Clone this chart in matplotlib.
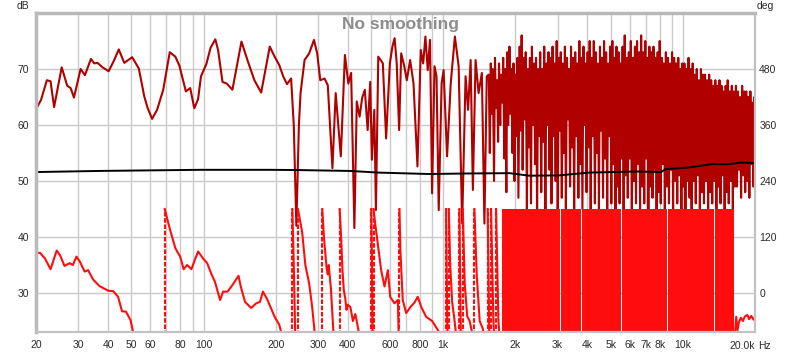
import numpy as np
import matplotlib
matplotlib.use('Agg')
import matplotlib.pyplot as plt
from matplotlib.ticker import FixedLocator, FixedFormatter

plt.rcParams['font.family'] = ['Liberation Sans', 'DejaVu Sans']

# SPL trace below ~1.5 kHz (Hz, dB)
mag_f = [20, 21, 22.2, 23.0, 23.8, 25.6, 27.0, 27.9, 28.8, 30.7,
         32.0, 33.9, 35.0, 36.1, 37.9, 40.2, 42.3, 44.3, 46.7, 50.4,
         53.7, 56.6, 58.5, 61.0, 64.0, 67.9, 72.3, 76.3, 79.3, 84.4,
         88.0, 91.5, 94.9, 97.6, 102.8, 107, 112, 115, 120, 125,
         132, 144, 153, 163, 174, 189, 198, 207, 215, 223,
         232, 238, 244, 250, 254, 264, 276, 289, 298, 307,
         320, 330, 345, 356, 374, 389, 402, 413, 426, 436,
         448, 459, 471, 484, 496, 504, 516, 524, 536, 560,
         578, 599, 614, 627, 640, 655, 668, 688, 705, 728,
         752, 781, 806, 825, 843, 862, 881, 899, 920, 938,
         958, 985, 1004, 1038, 1075, 1119, 1160, 1200, 1240, 1270,
         1302, 1330, 1365, 1405, 1450, 1486, 1520]
mag_db = [62.8, 64.5, 68.0, 67.8, 63.2, 70.3, 67.0, 66.6, 64.9, 70.0,
          68.9, 71.8, 71.0, 71.1, 70.3, 69.6, 71.5, 73.5, 71.1, 72.1,
          70.1, 65.1, 63.0, 61.1, 62.7, 66.3, 73.0, 72.2, 70.6, 66.0,
          66.6, 63.0, 64.6, 68.7, 70.9, 73.8, 75.3, 73.4, 67.7, 67.4,
          66.3, 74.9, 71.4, 68.0, 65.8, 74.0, 72.2, 70.7, 68.7, 67.3,
          68.3, 60.0, 42.0, 60.0, 65.7, 71.6, 72.8, 75.2, 72.8, 68.0,
          68.3, 67.1, 52.3, 65.7, 54.4, 72.5, 67.4, 69.3, 41.6, 64.2,
          61.5, 64.8, 66.3, 59.1, 67.7, 53.8, 62.7, 44.8, 72.2, 71.0,
          57.6, 71.0, 74.0, 75.5, 71.0, 59.1, 72.8, 70.5, 68.0, 71.6,
          67.4, 52.6, 73.4, 71.0, 75.8, 69.8, 75.2, 47.8, 70.5, 68.7,
          44.8, 67.4, 69.8, 54.4, 67.4, 75.8, 70.5, 42.4, 68.7, 62.7,
          71.6, 48.4, 71.6, 65.7, 69.3, 42.4, 68.7]

# SPL trace above 1.5 kHz, alternating peaks and dips
hf_f = [1550, 1565, 1580, 1595, 1610, 1630, 1645, 1660, 1680, 1695,
        1710, 1730, 1745, 1765, 1780, 1800, 1815, 1835, 1850, 1870,
        1890, 1905, 1925, 1945, 1965, 1985, 2000, 2020, 2040, 2060,
        2085, 2105, 2125, 2145, 2170, 2190, 2210, 2235, 2255, 2280,
        2300, 2325, 2345, 2370, 2395, 2420, 2440, 2465, 2490, 2515,
        2540, 2565, 2590, 2615, 2640, 2670, 2695, 2720, 2750, 2775,
        2805, 2830, 2860, 2890, 2915, 2945, 2975, 3005, 3035, 3065,
        3095, 3125, 3155, 3190, 3220, 3250, 3285, 3320, 3350, 3385,
        3415, 3450, 3485, 3520, 3555, 3590, 3625, 3665, 3700, 3735,
        3770, 3810, 3850, 3885, 3925, 3965, 4005, 4045, 4085, 4125,
        4165, 4210, 4250, 4295, 4335, 4380, 4420, 4465, 4510, 4555,
        4600, 4645, 4690, 4740, 4785, 4835, 4880, 4930, 4980, 5030,
        5080, 5130, 5180, 5235, 5285, 5340, 5390, 5445, 5495, 5550,
        5605, 5660, 5720, 5775, 5830, 5890, 5950, 6010, 6065, 6130,
        6190, 6250, 6310, 6375, 6440, 6500, 6565, 6630, 6700, 6765,
        6830, 6900, 6970, 7040, 7110, 7180, 7250, 7325, 7395, 7470,
        7545, 7620, 7695, 7770, 7850, 7925, 8005, 8085, 8165, 8245,
        8330, 8410, 8495, 8580, 8665, 8750, 8840, 8930, 9015, 9105,
        9195, 9290, 9380, 9475, 9570, 9665, 9760, 9860, 9955, 10055,
        10150, 10250, 10355, 10460, 10560, 10665, 10775, 10880, 10990, 11100,
        11210, 11320, 11430, 11545, 11660, 11775, 11895, 12010, 12130, 12250,
        12375, 12500, 12620, 12750, 12875, 13005, 13130, 13260, 13395, 13530,
        13660, 13800, 13935, 14075, 14215, 14360, 14500, 14645, 14790, 14940,
        15085, 15235, 15385, 15540, 15695, 15850, 16005, 16165, 16325, 16490,
        16655, 16820, 16985, 17155, 17325, 17500, 17675, 17850, 18025, 18205,
        18385, 18570, 18755, 18945, 19130, 19320, 19510, 19705, 19900, 20000]
hf_db = [69, 55, 71, 62, 70, 50, 72, 63, 68, 57,
         71, 60, 69, 64, 72, 54, 70, 48, 73, 60,
         74, 62, 70, 55, 71, 50, 69, 58, 72, 47,
         74, 59, 76, 52, 72, 61, 73, 45, 70, 56,
         72, 46, 74, 60, 71, 53, 72, 44, 70, 58,
         73, 48, 70, 57, 74, 45, 71, 60, 73, 52,
         72, 46, 74, 58, 71, 50, 75, 44, 72, 59,
         73, 47, 71, 55, 74, 45, 72, 61, 70, 49,
         74, 56, 72, 45, 73, 58, 71, 47, 75, 53,
         72, 45, 74, 60, 71, 48, 73, 56, 75, 45,
         72, 58, 75, 46, 73, 55, 71, 45, 74, 59,
         72, 47, 75, 54, 73, 45, 71, 58, 74, 46,
         75, 53, 72, 45, 74, 49, 73, 46, 71, 54,
         74, 45, 76, 51, 72, 47, 73, 54, 75, 45,
         72, 50, 74, 46, 75, 53, 73, 45, 76, 49,
         73, 46, 75, 54, 72, 45, 74, 49, 73, 47,
         74, 52, 72, 45, 73, 48, 75, 46, 72, 53,
         71, 45, 73, 49, 72, 46, 71, 52, 73, 45,
         72, 50, 71, 46, 72, 51, 70, 45, 71, 49,
         71, 45, 70, 50, 72, 47, 70, 45, 71, 50,
         69, 46, 70, 51, 68, 45, 70, 48, 69, 46,
         69, 50, 68, 45, 69, 48, 68, 46, 67, 50,
         68, 45, 67, 49, 68, 46, 67, 51, 66, 45,
         67, 48, 68, 46, 66, 50, 67, 45, 66, 49,
         67, 49, 66, 52, 65, 47, 67, 51, 66, 48,
         66, 50, 65, 47, 66, 53, 64, 49, 65, 54]

# second (black) trace, dB
ref_f = [20, 37, 97, 189, 252, 407, 540, 872, 1284, 1895,
         2284, 3036, 4060, 6330, 8130, 8440, 10540, 13150, 15470, 17520, 20000]
ref_db = [51.6, 51.8, 52.0, 52.0, 51.95, 51.8, 51.5, 51.25, 51.35, 51.4,
          50.95, 51.0, 51.5, 51.7, 51.6, 52.1, 52.4, 53.0, 53.0, 53.3, 53.2]

# phase (deg), wrapped at +-180: a -180 -> +180 step marks a wrap
ph_f = [20, 20.8, 21.8, 23.0, 24.4, 25.2, 26.3, 27.6, 28.5, 29.5,
        30.5, 31.9, 33.0, 34.6, 36.8, 40.0, 42.0, 44.0, 45.7, 47.5,
        49.6, 50.6, 53, 60, 68.9, 68.9,
        72.3, 76.3, 79.9, 82.6, 85.5, 89.0, 92.3, 95.0, 99.6, 103.6,
        107.6, 111.6, 117.3, 120.7, 126, 132, 140, 143, 149, 158,
        166, 172, 177, 185, 198, 207, 215, 225, 234.8, 234.8,
        238, 242, 247.8, 247.8,
        258, 266, 276, 284, 291, 300, 313, 313,
        318, 326, 330, 333, 340, 348, 358, 369.7, 369.7,
        375, 380, 385, 390, 395, 400, 410, 420, 430, 445, 470, 501, 501,
        505, 508, 512, 512,
        520, 533, 551, 569, 588, 601, 626, 647, 652, 657, 657,
        663, 678, 701, 730, 760, 783, 810, 849, 900, 965, 1000, 1028, 1028,
        1040, 1055, 1055,
        1070, 1090, 1110, 1130, 1150, 1169, 1169,
        1185, 1207, 1207,
        1230, 1260, 1290, 1320, 1350, 1350,
        1380, 1420, 1460, 1500, 1533, 1533,
        1560, 1584, 1584,
        1620, 1662, 1662,
        1700, 1765]
ph_deg = [86, 86, 74, 51, 91, 81, 58, 64, 60, 78,
          67, 46, 49, 29, 15, 5, 4, -8, -39, -40,
          -58, -79, -120, -160, -180, 180,
          138, 96, 78, 51, 60, 51, 73, 89, 74, 64,
          42, 24, -15, 3, 3, 17, 37, 14, -19, -32,
          -22, -19, 3, -15, -51, -68, -100, -150, -180, 180,
          60, -120, -180, 180,
          130, 60, 20, -30, -85, -130, -180, 180,
          120, 55, 40, 60, 10, -80, -130, -180, 180,
          121, 49, 6, -10, -36, -25, -30, -60, -45, -85, -140, -180, 180,
          60, -100, -180, 180,
          150, 107, 49, 14, 49, -8, -22, -15, -90, -180, 180,
          90, -15, -43, -30, -20, -8, -30, -51, -60, -85, -140, -180, 180,
          -60, -180, 180,
          60, -20, -50, -85, -140, -180, 180,
          -100, -180, 180,
          20, -50, -60, -85, -180, 180,
          40, -60, -75, -100, -180, 180,
          -120, -180, 180,
          -60, -180, 180,
          -60, -180]

# 1.8k - 16k: phase wraps so fast that it fills the band
band_lo = [1765, 3115, 3810, 5590, 8665, 13560]
band_hi = [3085, 3775, 5540, 8580, 13430, 16350]

# phase tail above the band
tail_f = [16450, 16700, 16900, 17150, 17450, 17800, 18150, 18600, 18900, 19300, 19700, 20000]
tail_deg = [-95, -51, -80, -62, -53, -60, -50, -47, -56, -49, -57, -52]

grid_f = [20, 30, 40, 50, 60, 70, 80, 90, 100, 200, 300, 400, 500, 600, 700, 800, 900,
          1000, 2000, 3000, 4000, 5000, 6000, 7000, 8000, 9000, 10000]
grid_lbl = ['20', '30', '40', '50', '60', '', '80', '', '100', '200', '300', '400', '', '600', '', '800', '',
            '1k', '2k', '3k', '4k', '5k', '6k', '7k', '8k', '', '10k']

assert len(mag_f) == len(mag_db) and len(hf_f) == len(hf_db) and len(ph_f) == len(ph_deg)

MAG = '#b00000'
PH = '#ff0d0d'
GRID = '#cacaca'
TXT = '#2a2a2a'

fig = plt.figure(figsize=(8, 3.53), dpi=100)
ax = fig.add_axes([36 / 800, 1 - 332 / 353, 719 / 800, 319 / 353])
ax2 = ax.twinx()

ax.set_xscale('log')
ax.set_xlim(20, 20000)
ax.set_ylim(23.04, 80)
ax2.set_ylim(-83.5, 600)

# magnitude + black trace
ax.plot(np.concatenate([mag_f, hf_f]), np.concatenate([mag_db, hf_db]), color=MAG, lw=1.5, zorder=2)
ax.plot(ref_f, ref_db, color='black', lw=1.4, zorder=3)

# phase, solid between wraps, dashed at the wraps
f = np.array(ph_f)
d = np.array(ph_deg)
jumps = np.where(np.diff(d) > 180)[0]
start = 0
for j in list(jumps) + [len(f) - 1]:
    ax2.plot(f[start:j + 1], d[start:j + 1], color=PH, lw=1.5, solid_joinstyle='round')
    start = j + 1
for j in jumps:
    ax2.plot([f[j], f[j + 1]], [-180, 180], color=PH, lw=1.5, dashes=(2.2, 0.8))
for lo, hi in zip(band_lo, band_hi):
    ax2.fill_between([lo, hi], -180, 180, color=PH, lw=0)
ax2.plot(tail_f, tail_deg, color=PH, lw=1.5)

# grid / ticks
ax.xaxis.set_major_locator(FixedLocator(grid_f))
ax.xaxis.set_major_formatter(FixedFormatter(grid_lbl))
ax.xaxis.set_minor_locator(FixedLocator([]))
ax.set_yticks([30, 40, 50, 60, 70])
ax2.set_yticks([0, 120, 240, 360, 480])
ax.grid(True, color=GRID, lw=1)
ax.tick_params(length=0, labelsize=7.5, labelcolor=TXT)
ax.tick_params(axis='x', pad=6)
ax.tick_params(axis='y', pad=5)
ax2.tick_params(length=0, labelsize=7.5, labelcolor=TXT, pad=3)

for s in ax.spines.values():
    s.set_visible(False)
for side in ['left', 'top']:
    ax2.spines[side].set_linewidth(2.5)
    ax2.spines[side].set_color('#b9b9b9')
for side in ['right', 'bottom']:
    ax2.spines[side].set_linewidth(1.6)
    ax2.spines[side].set_color('#c2c2c2')

ax.text(20000, -0.028, '20.0k', transform=ax.get_xaxis_transform(), ha='right', va='top',
        fontsize=7.5, color=TXT)
ax.text(1.004, -0.028, 'Hz', transform=ax.transAxes, ha='left', va='top', fontsize=7.5, color=TXT)

fig.text(23 / 800, 1 - 6 / 353, 'dB', ha='center', va='center', fontsize=7.5, color=TXT)
fig.text(765 / 800, 1 - 6 / 353, 'deg', ha='center', va='center', fontsize=7.5, color=TXT)
fig.text(400 / 800, 1 - 24 / 353, 'No smoothing', ha='center', va='center', fontsize=12.5,
         fontweight='bold', color='#8c8c8c')

fig.savefig('out.png', dpi=100, facecolor='white')
